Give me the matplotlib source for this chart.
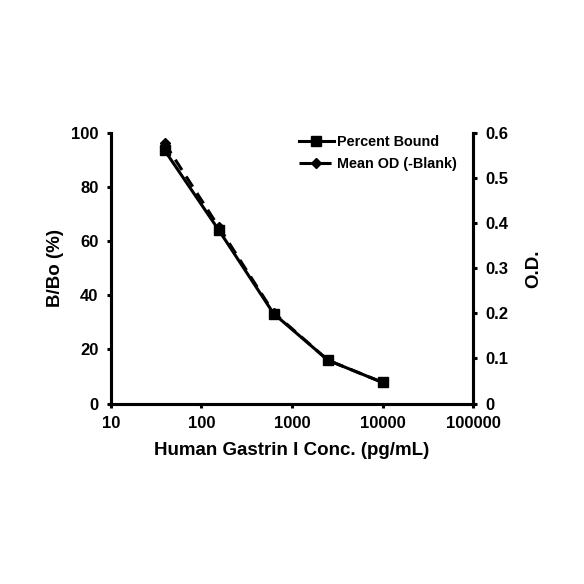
import matplotlib
matplotlib.use("Agg")
import matplotlib.pyplot as plt
from matplotlib.lines import Line2D

plt.rcParams['font.family'] = ['Liberation Sans', 'DejaVu Sans']
plt.rcParams['font.weight'] = 'bold'

conc = [39.06, 156.25, 625, 2500, 10000]
percent_bound = [93.7, 64.0, 33.3, 16.0, 7.8]
mean_od = [0.578, 0.391, 0.202, 0.096, 0.047]

x_ticks = [10, 100, 1000, 10000, 100000]
x_labels = ["10", "100", "1000", "10000", "100000"]
y_ticks = [0, 20, 40, 60, 80, 100]
od_ticks = [0, 0.1, 0.2, 0.3, 0.4, 0.5, 0.6]
od_labels = ["0", "0.1", "0.2", "0.3", "0.4", "0.5", "0.6"]

fig = plt.figure(figsize=(5.84, 5.84), dpi=100)
ax = fig.add_axes([0.19, 0.309, 0.62, 0.463])
ax2 = ax.twinx()

ax.plot(conc, percent_bound, color='black', lw=2.2, marker='s', ms=7, zorder=3)
ax2.plot(conc, mean_od, color='black', lw=2.2, ls=(0, (4, 2.5)), marker='D', ms=5, zorder=2)

ax.set_xscale('log')
ax.set_xlim(10, 100000)
ax.set_ylim(0, 100)
ax2.set_ylim(0, 0.6)
ax.set_xticks(x_ticks)
ax.set_xticklabels(x_labels)
ax.xaxis.set_minor_locator(matplotlib.ticker.NullLocator())
ax.set_yticks(y_ticks)
ax2.set_yticks(od_ticks)
ax2.set_yticklabels(od_labels)

for a in (ax, ax2):
    a.spines['top'].set_visible(False)
    for s in ('left', 'right', 'bottom'):
        a.spines[s].set_linewidth(2.2)
    a.tick_params(direction='out', length=3, width=2.2, labelsize=12, pad=6)

ax.set_xlabel("Human Gastrin I Conc. (pg/mL)", fontsize=13.5, fontweight='bold', labelpad=8)
ax.set_ylabel("B/Bo (%)", fontsize=13.5, fontweight='bold', labelpad=5)
ax2.set_ylabel("O.D.", fontsize=13.5, fontweight='bold', labelpad=12)

handles = [Line2D([], [], color='black', lw=2.2, marker='s', ms=7),
           Line2D([], [], color='black', lw=2.2, ls=(0, (4, 2.5)), marker='D', ms=5)]
ax.legend(handles, ["Percent Bound", "Mean OD (-Blank)"], loc='upper right',
          frameon=False, fontsize=10.4, handlelength=2.4, handletextpad=0.2,
          bbox_to_anchor=(0.99, 1.04), labelspacing=0.5)

fig.savefig("out.png", dpi=100)
